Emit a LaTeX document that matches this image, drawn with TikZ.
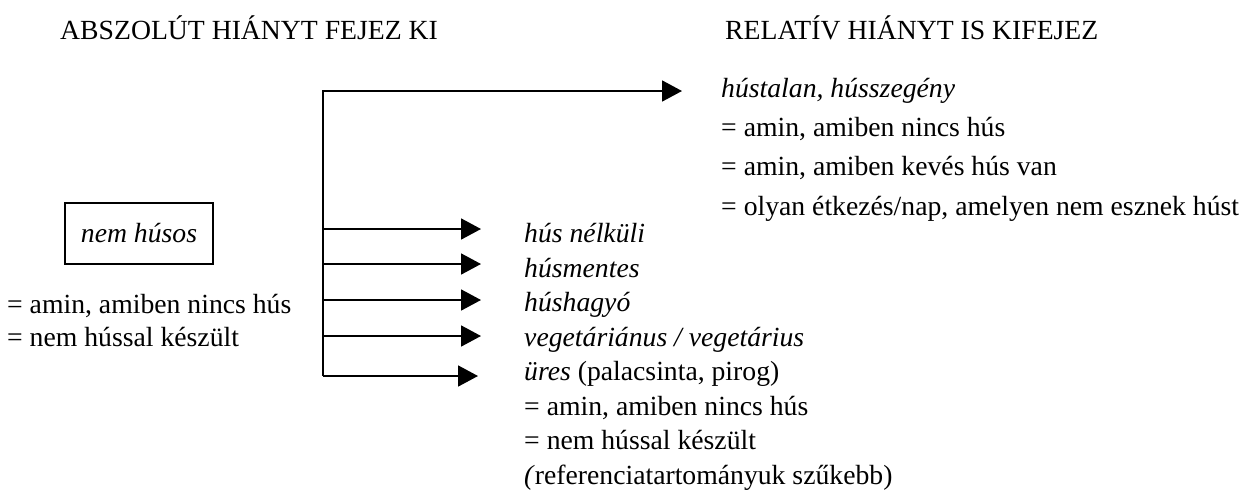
\documentclass[tikz,border=0pt]{standalone}
\usepackage{fontspec}
\setmainfont{Liberation Serif}
\usetikzlibrary{arrows.meta}
\tikzstyle{txt} = [inner sep=0pt, anchor=base west, font=\fontsize{27.7}{34}\selectfont]
\tikzstyle{wordbox} = [draw, line width=1.9pt, minimum width=148pt, minimum height=61pt, inner sep=0pt, font=\fontsize{27.7}{34}\selectfont\itshape]
\tikzstyle{conn} = [draw, line width=1.8pt]
\tikzstyle{junction} = [coordinate]

\begin{document}
\begin{tikzpicture}[x=1pt, y=-1pt, >={Triangle[length=20pt,width=21pt]}]
    \useasboundingbox (0,0) rectangle (1243,491);
    % Headings
    \node [txt] (abs) at (60,39) {ABSZOLÚT HIÁNYT FEJEZ KI};
    \node [txt] (rel) at (725,39) {RELATÍV HIÁNYT IS KIFEJEZ};

    % Left side
    \node [wordbox] (nemhusos) at (139,233.5) {nem húsos};
    \node [txt] (def1) at (7,313) {= amin, amiben nincs hús};
    \node [txt] (def2) at (7,346) {= nem hússal készült};

    % Right top block
    \node [txt] (hustalan) at (721,97.5) {\textit{hústalan, hússzegény}};
    \node [txt] (rdef1) at (721,136.5) {= amin, amiben nincs hús};
    \node [txt] (rdef2) at (721,175.5) {= amin, amiben kevés hús van};
    \node [txt] (rdef3) at (721,215) {= olyan étkezés/nap, amelyen nem esznek húst};

    % Lower block
    \node [txt] (nelkuli) at (524,242.5) {\textit{hús nélküli}};
    \node [txt] (mentes) at (524,277) {\textit{húsmentes}};
    \node [txt] (hagyo) at (524,311.5) {\textit{húshagyó}};
    \node [txt] (vega) at (524,346) {\textit{vegetáriánus / vegetárius}};
    \node [txt] (ures) at (524,380.5) {\textit{üres} (palacsinta, pirog)};
    \node [txt] (udef1) at (524,415) {= amin, amiben nincs hús};
    \node [txt] (udef2) at (524,449) {= nem hússal készült};
    \node [txt] (udef3) at (524,484) {\textit{(}referenciatartományuk szűkebb)};

    % Junctions and arrow ends
    \node [junction] (top) at (323,91) {};
    \node [junction] (tiptop) at (682,91) {};
    \node [junction] (j1) at (323,229) {};
    \node [junction] (j2) at (323,264) {};
    \node [junction] (j3) at (323,300) {};
    \node [junction] (j4) at (323,336) {};
    \node [junction] (j5) at (323,376) {};
    \node [junction] (t1) at (481,229) {};
    \node [junction] (t2) at (481,264) {};
    \node [junction] (t3) at (481,300) {};
    \node [junction] (t4) at (481,336) {};
    \node [junction] (t5) at (478,376) {};

    % Connectors
    \draw [conn,->] (j5) -- (top) -- (tiptop);
    \draw [conn,->] (j1) -- (t1);
    \draw [conn,->] (j2) -- (t2);
    \draw [conn,->] (j3) -- (t3);
    \draw [conn,->] (j4) -- (t4);
    \draw [conn,->] (j5) -- (t5);
\end{tikzpicture}
\end{document}
